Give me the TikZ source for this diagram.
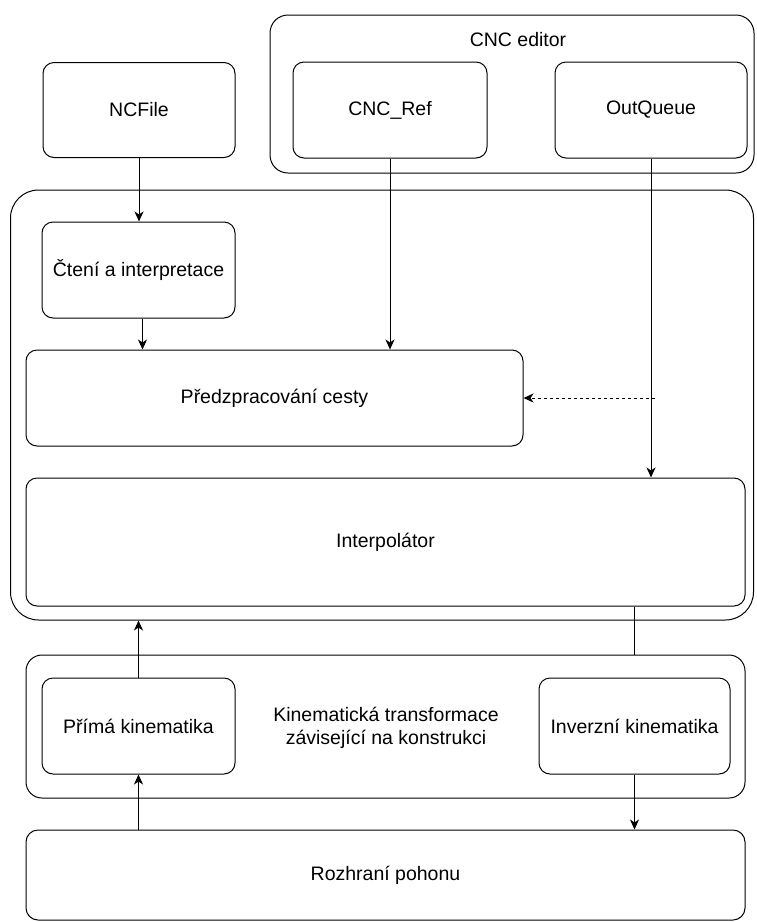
\documentclass[tikz,border=0pt]{standalone}
\usepackage{fontspec}
\setmainfont{Liberation Sans}
\usetikzlibrary{arrows.meta,calc}
\begin{document}
\begin{tikzpicture}[x=1pt,y=-1pt,
  box/.style={draw, line width=1pt, rounded corners=11pt, inner sep=0pt, align=center,
    font=\fontsize{19.5}{23}\selectfont},
  lbl/.style={inner sep=0pt, align=center, font=\fontsize{19.5}{23}\selectfont},
  conn/.style={line width=1pt},
  arr/.style={conn, -{Stealth[length=10pt,width=9pt,inset=3pt]}},
  darr/.style={arr, dash pattern=on 3pt off 3pt}]
\useasboundingbox (0,0) rectangle (756,922);
% containers
\node[box, rounded corners=18pt, minimum width=484pt, minimum height=158pt] (editor) at (512,94) {};
\node[lbl] (editorlbl) at (518,40) {CNC editor};
\node[box, rounded corners=28pt, minimum width=743pt, minimum height=430pt] (big) at (382,405) {};
\node[box, rounded corners=16pt, minimum width=719pt, minimum height=143pt] (kin) at (385.5,726.5) {};
\node[lbl] (kintext) at (386,728) {Kinematická transformace\\závisející na konstrukci};
% boxes
\node[box, minimum width=192pt, minimum height=95pt] (ncfile) at (139,110) {NCFile};
\node[box, minimum width=194pt, minimum height=96pt] (cncref) at (390,110) {CNC\_Ref};
\node[box, minimum width=192pt, minimum height=96pt] (outq) at (651,110) {OutQueue};
\node[box, minimum width=193pt, minimum height=96pt] (cteni) at (138.5,270) {Čtení a interpretace};
\node[box, minimum width=497pt, minimum height=96pt] (pred) at (274.5,398) {Předzpracování cesty};
\node[box, minimum width=719pt, minimum height=128pt] (interp) at (385.5,542) {Interpolátor};
\node[box, minimum width=193pt, minimum height=96pt] (prima) at (138.5,726) {Přímá kinematika};
\node[box, minimum width=191pt, minimum height=96pt] (inv) at (634.5,726) {Inverzní kinematika};
\node[box, rounded corners=12pt, minimum width=719pt, minimum height=90pt] (rozh) at (385.5,875) {Rozhraní pohonu};
% connectors
\draw[arr] (ncfile.south) -- (ncfile.south |- cteni.north);
\coordinate (c1) at ($(cteni.south)+(4,0)$);
\draw[arr] (c1) -- (c1 |- pred.north);
\draw[arr] (cncref.south) -- (cncref.south |- pred.north);
\draw[arr] (outq.south) -- (outq.south |- interp.north);
\coordinate (tap) at ($(outq.south |- pred.east)+(4,0)$);
\draw[darr] (tap) -- (pred.east);
\draw[conn] (inv.north |- interp.south) -- (inv.north |- kin.north);
\draw[arr] (prima.north) -- (prima.north |- big.south);
\draw[arr] (prima.south |- rozh.north) -- (prima.south);
\draw[arr] (inv.south) -- (inv.south |- rozh.north);
\end{tikzpicture}
\end{document}
